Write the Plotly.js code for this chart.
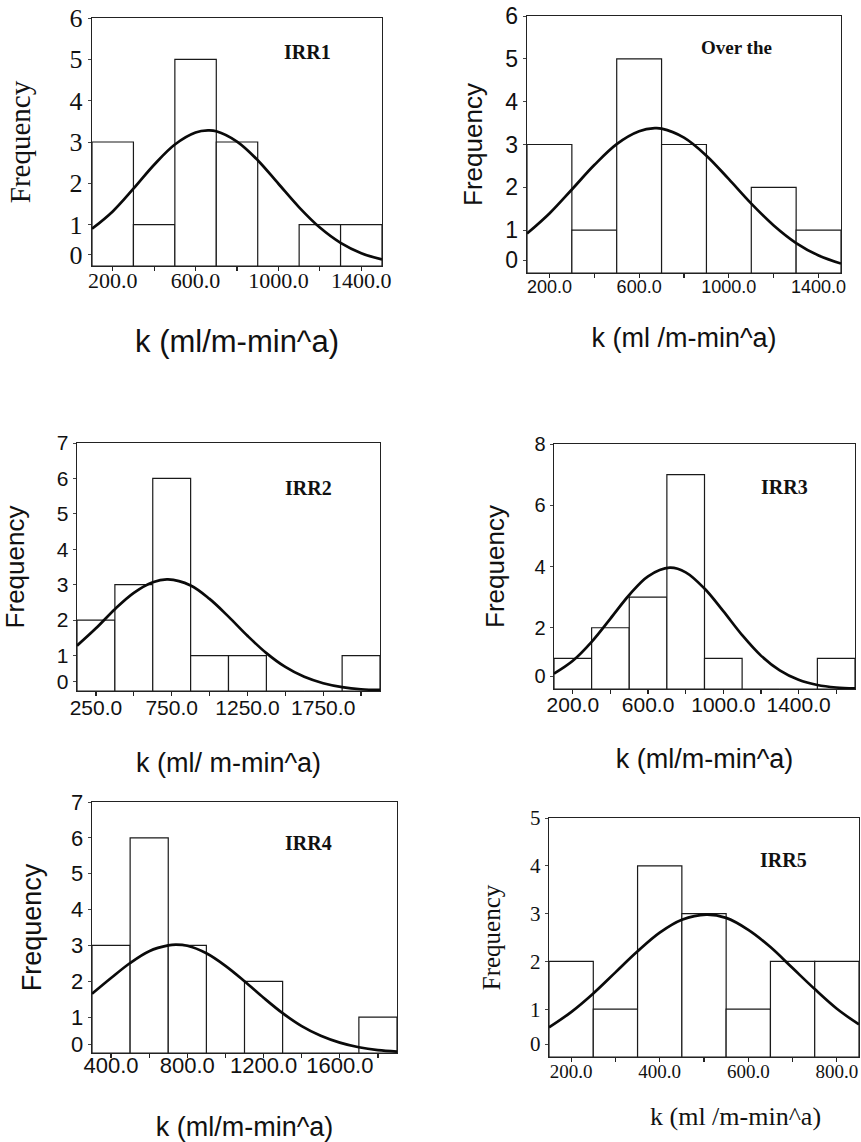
<!DOCTYPE html>
<html>
<head>
<meta charset="utf-8">
<script src="https://cdn.plot.ly/plotly-3.0.1.min.js"></script>
<style>
html, body { margin: 0; padding: 0; background: #ffffff; }
#chart { width: 861px; height: 1142px; }
</style>
</head>
<body>
<div id="chart"></div>
<script>
// ---------------- DATA ----------------
// Panel IRR1
const irr1BinCenters = [200, 400, 600, 800, 1000, 1200, 1400];
const irr1Counts     = [3, 1, 5, 3, 0, 1, 1];
const irr1CurveK     = [100, 200, 300, 400, 500, 600, 660, 700, 800, 900, 1000, 1100, 1200, 1300, 1400, 1500];
const irr1CurveFreq  = [0.90, 1.32, 1.87, 2.45, 2.94, 3.23, 3.28, 3.26, 3.01, 2.56, 1.99, 1.42, 0.93, 0.56, 0.31, 0.16];

// Panel "Over the"
const overBinCenters = [200, 400, 600, 800, 1000, 1200, 1400];
const overCounts     = [3, 1, 5, 3, 0, 2, 1];
const overCurveK     = [100, 200, 300, 400, 500, 600, 670, 700, 800, 900, 1000, 1100, 1200, 1300, 1400, 1500];
const overCurveFreq  = [0.92, 1.39, 1.95, 2.52, 3.01, 3.31, 3.38, 3.37, 3.16, 2.74, 2.19, 1.62, 1.11, 0.70, 0.41, 0.22];

// Panel IRR2
const irr2BinCenters = [250, 500, 750, 1000, 1250, 1500, 1750, 2000];
const irr2Counts     = [2, 3, 6, 1, 1, 0, 0, 1];
const irr2CurveK     = [125, 250, 375, 500, 625, 725, 875, 1000, 1125, 1250, 1375, 1500, 1625, 1750, 1875, 2000, 2125];
const irr2CurveFreq  = [1.28, 1.77, 2.31, 2.77, 3.07, 3.15, 2.98, 2.60, 2.10, 1.56, 1.07, 0.68, 0.40, 0.22, 0.11, 0.05, 0.03];

// Panel IRR3
const irr3BinCenters = [200, 400, 600, 800, 1000, 1200, 1400, 1600];
const irr3Counts     = [1, 2, 3, 7, 1, 0, 0, 1];
const irr3CurveK     = [100, 200, 300, 400, 500, 600, 715, 800, 900, 1000, 1100, 1200, 1300, 1400, 1500, 1600, 1700];
const irr3CurveFreq  = [0.50, 0.92, 1.54, 2.30, 3.07, 3.68, 3.96, 3.81, 3.28, 2.54, 1.76, 1.09, 0.61, 0.30, 0.13, 0.05, 0.02];

// Panel IRR4
const irr4BinCenters = [400, 600, 800, 1000, 1200, 1400, 1600, 1800];
const irr4Counts     = [3, 6, 3, 0, 2, 0, 0, 1];
const irr4CurveK     = [300, 400, 500, 600, 700, 740, 800, 900, 1000, 1100, 1200, 1300, 1400, 1500, 1600, 1700, 1800, 1900];
const irr4CurveFreq  = [1.65, 2.09, 2.51, 2.84, 3.00, 3.02, 2.99, 2.78, 2.43, 2.00, 1.54, 1.11, 0.75, 0.48, 0.29, 0.16, 0.08, 0.04];

// Panel IRR5
const irr5BinCenters = [200, 300, 400, 500, 600, 700, 800];
const irr5Counts     = [2, 1, 4, 3, 1, 2, 2];
const irr5CurveK     = [150, 200, 250, 300, 350, 400, 450, 505, 550, 600, 650, 700, 750, 800, 850];
const irr5CurveFreq  = [0.62, 0.94, 1.33, 1.77, 2.21, 2.60, 2.87, 2.98, 2.91, 2.66, 2.30, 1.86, 1.42, 1.01, 0.68];

// Tick labels
const irr1XTicks = [200, 600, 1000, 1400];
const overXTicks = [200, 600, 1000, 1400];
const irr2XTicks = [250, 750, 1250, 1750];
const irr3XTicks = [200, 600, 1000, 1400];
const irr4XTicks = [400, 800, 1200, 1600];
const irr5XTicks = [200, 400, 600, 800];
const irr1YLabels = ['0', '1', '2', '3', '4', '5', '6'];
const overYLabels = ['0', '1', '2', '3', '4', '5', '6'];
const irr2YLabels = ['0', '1', '2', '3', '4', '5', '6', '7'];
const irr3YLabels = ['0', '2', '4', '6', '8'];
const irr4YLabels = ['0', '1', '2', '3', '4', '5', '6', '7'];
const irr5YLabels = ['0', '1', '2', '3', '4', '5'];

const panelNames = ['IRR1', 'Over the', 'IRR2', 'IRR3', 'IRR4', 'IRR5'];
const xTitles = ['k (ml/m-min^a)', 'k (ml /m-min^a)', 'k (ml/ m-min^a)', 'k (ml/m-min^a)', 'k (ml/m-min^a)', 'k (ml /m-min^a)'];
const yTitle = 'Frequency';

// ---------------- LAYOUT / STYLE ----------------
const W = 861, H = 1142;
const SERIF = '"Liberation Serif", "Times New Roman", serif';
const SANS = '"Liberation Sans", Arial, sans-serif';
const INK = '#111111';

function dx(px) { return px / W; }
function dy(py) { return 1 - py / H; }

const panels = [
  { bins: irr1BinCenters, counts: irr1Counts, ck: irr1CurveK, cf: irr1CurveFreq, xt: irr1XTicks, yl: irr1YLabels,
    box: [92, 382, 18, 266], xr: [100, 1500], yr: [0, 6], ystep: 1, zeroAt: 0.28, minor: 200,
    tickFont: { family: SERIF, size: 22 }, yTickSize: 26, yTitleFont: { family: SERIF, size: 29 }, xTitleFont: { family: SANS, size: 31 },
    yStand: 30, xStand: 38, xShift: -10, label: [307, 52], labelSize: 20 },
  { bins: overBinCenters, counts: overCounts, ck: overCurveK, cf: overCurveFreq, xt: overXTicks, yl: overYLabels,
    box: [527, 841, 16, 273], xr: [100, 1500], yr: [0, 6], ystep: 1, zeroAt: 0.30, minor: 200,
    tickFont: { family: SANS, size: 18 }, yTickSize: 23, yTitleFont: { family: SANS, size: 26 }, xTitleFont: { family: SANS, size: 27 },
    yStand: 15, xStand: 32, xShift: -7, label: [736, 48], labelSize: 19 },
  { bins: irr2BinCenters, counts: irr2Counts, ck: irr2CurveK, cf: irr2CurveFreq, xt: irr2XTicks, yl: irr2YLabels,
    box: [77, 380, 443, 691], xr: [125, 2125], yr: [0, 7], ystep: 1, zeroAt: 0.26, minor: 250,
    tickFont: { family: SANS, size: 21 }, yTickSize: 21, yTitleFont: { family: SANS, size: 26 }, xTitleFont: { family: SANS, size: 27 },
    yStand: 24, xStand: 35, xShift: -7, label: [308, 488], labelSize: 20 },
  { bins: irr3BinCenters, counts: irr3Counts, ck: irr3CurveK, cf: irr3CurveFreq, xt: irr3XTicks, yl: irr3YLabels,
    box: [554, 855, 444, 689], xr: [100, 1700], yr: [0, 8], ystep: 2, zeroAt: 0.41, minor: 200,
    tickFont: { family: SANS, size: 21 }, yTickSize: 20, yTitleFont: { family: SANS, size: 26 }, xTitleFont: { family: SANS, size: 27 },
    yStand: 22, xStand: 34, xShift: -8, label: [784, 487], labelSize: 20 },
  { bins: irr4BinCenters, counts: irr4Counts, ck: irr4CurveK, cf: irr4CurveFreq, xt: irr4XTicks, yl: irr4YLabels,
    box: [92, 397, 802, 1053], xr: [300, 1900], yr: [0, 7], ystep: 1, zeroAt: 0.25, minor: 200,
    tickFont: { family: SANS, size: 22 }, yTickSize: 22, yTitleFont: { family: SANS, size: 27 }, xTitleFont: { family: SANS, size: 27 },
    yStand: 21, xStand: 41, xShift: -12, label: [308, 843], labelSize: 20 },
  { bins: irr5BinCenters, counts: irr5Counts, ck: irr5CurveK, cf: irr5CurveFreq, xt: irr5XTicks, yl: irr5YLabels,
    box: [549, 859, 818, 1057], xr: [150, 850], yr: [0, 5], ystep: 1, zeroAt: 0.27, minor: 100,
    tickFont: { family: SERIF, size: 19 }, yTickSize: 21, yTitleFont: { family: SERIF, size: 25 }, xTitleFont: { family: SERIF, size: 26 },
    yStand: 22, xStand: null, xShift: -7, xTitleAt: [735, 1116], label: [783, 860], labelSize: 20 }
];

const traces = [];
const layout = {
  width: W, height: H,
  margin: { l: 0, r: 0, t: 0, b: 0, pad: 0 },
  paper_bgcolor: '#ffffff', plot_bgcolor: '#ffffff',
  showlegend: false, hovermode: false,
  font: { family: SANS, color: INK },
  annotations: []
};

panels.forEach((p, i) => {
  const n = i === 0 ? '' : String(i + 1);
  const xa = 'x' + n, ya = 'y' + n;
  const binWidth = p.bins[1] - p.bins[0];

  traces.push({
    type: 'bar', xaxis: xa, yaxis: ya,
    x: p.bins, y: p.counts, width: binWidth,
    marker: { color: '#ffffff', line: { color: '#1a1a1a', width: 1.2 } }
  });
  traces.push({
    type: 'scatter', mode: 'lines', xaxis: xa, yaxis: ya,
    x: p.ck, y: p.cf,
    line: { color: '#0a0a0a', width: 2.7, shape: 'spline', smoothing: 1 }
  });

  // y tick values: the reference prints its "0" label somewhat above the baseline
  const yTickVals = p.yl.map((t, j) => j === 0 ? p.zeroAt : j * p.ystep);

  layout['xaxis' + n] = {
    domain: [dx(p.box[0]), dx(p.box[1])], anchor: ya,
    range: p.xr, fixedrange: true,
    showline: true, mirror: true, linecolor: '#222222', linewidth: 1.3,
    showgrid: false, zeroline: false,
    tickmode: 'array', tickvals: p.xt, tickformat: '.1f',
    ticks: 'outside', ticklen: 4, tickwidth: 1.2, tickcolor: '#222222',
    ticklabelstandoff: p.xShift,
    minor: { dtick: p.minor, tick0: 0, ticks: 'outside', ticklen: 4, tickwidth: 1.2, tickcolor: '#222222', showgrid: false },
    tickfont: Object.assign({ color: INK }, p.tickFont),
    title: p.xStand === null ? { text: '' } :
      { text: xTitles[i], font: Object.assign({ color: INK }, p.xTitleFont), standoff: p.xStand }
  };
  layout['yaxis' + n] = {
    domain: [dy(p.box[3]), dy(p.box[2])], anchor: xa,
    range: p.yr, fixedrange: true,
    showline: true, mirror: true, linecolor: '#222222', linewidth: 1.3,
    showgrid: false, zeroline: false,
    tickmode: 'array', tickvals: yTickVals, ticktext: p.yl,
    ticks: 'outside', ticklen: 3, tickwidth: 1, tickcolor: '#444444',
    tickfont: { family: p.tickFont.family, size: p.yTickSize, color: INK },
    title: { text: yTitle, font: Object.assign({ color: INK }, p.yTitleFont), standoff: p.yStand }
  };

  layout.annotations.push({
    xref: 'paper', yref: 'paper', x: dx(p.label[0]), y: dy(p.label[1]),
    xanchor: 'center', yanchor: 'middle', showarrow: false,
    text: '<b>' + panelNames[i] + '</b>',
    font: { family: SERIF, size: p.labelSize, color: INK }
  });
  if (p.xStand === null) {
    layout.annotations.push({
      xref: 'paper', yref: 'paper', x: dx(p.xTitleAt[0]), y: dy(p.xTitleAt[1]),
      xanchor: 'center', yanchor: 'middle', showarrow: false,
      text: xTitles[i],
      font: Object.assign({ color: INK }, p.xTitleFont)
    });
  }
});

Plotly.newPlot('chart', traces, layout, { staticPlot: true, displayModeBar: false });
</script>
</body>
</html>
